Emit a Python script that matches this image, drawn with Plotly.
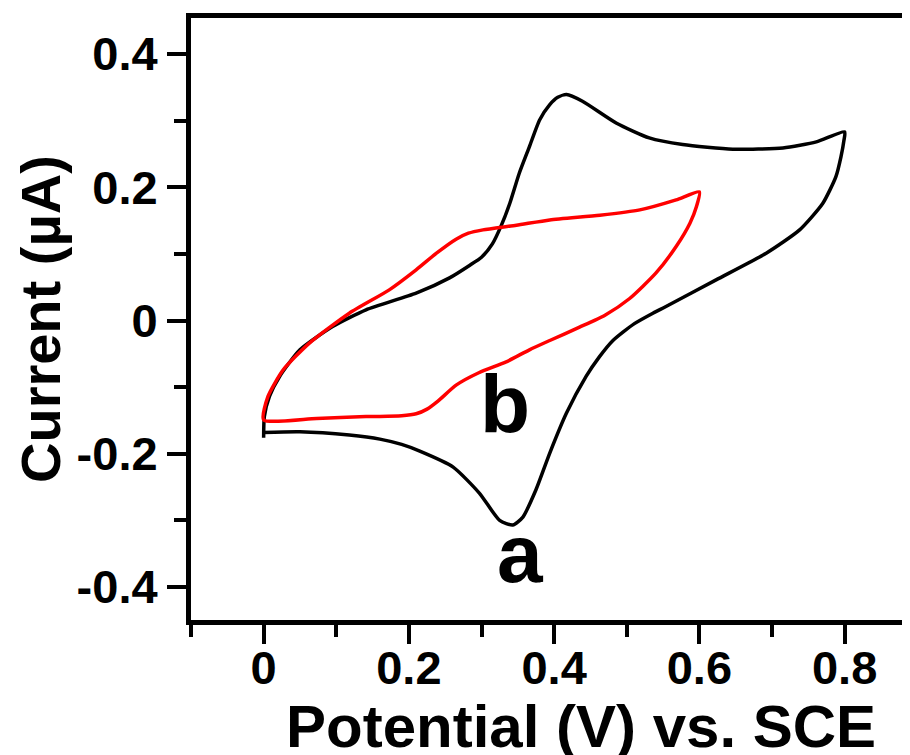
import plotly.graph_objects as go

# Curve a (black)
a_potential = [0.0, 0.001, 0.008, 0.022, 0.05, 0.095, 0.141, 0.21, 0.256, 0.284, 0.300, 0.315, 0.327,
               0.339, 0.352, 0.366, 0.38, 0.394, 0.405, 0.417, 0.439, 0.486, 0.531, 0.577, 0.646,
               0.715, 0.761, 0.8,
               0.799, 0.795, 0.788, 0.770, 0.738, 0.692, 0.623, 0.554, 0.536, 0.510, 0.481, 0.462, 0.444, 0.417,
               0.394, 0.375, 0.357, 0.343, 0.325, 0.297, 0.261, 0.215, 0.19, 0.16, 0.118, 0.05, 0.0]
a_current = [-0.176, -0.144, -0.114, -0.084, -0.044, -0.009, 0.016, 0.041, 0.064, 0.083, 0.095, 0.115, 0.142,
             0.176, 0.221, 0.261, 0.301, 0.324, 0.335, 0.339, 0.329, 0.296, 0.274, 0.264, 0.257,
             0.259, 0.268, 0.283,
             0.27, 0.246, 0.216, 0.176, 0.136, 0.101, 0.061, 0.021, 0.011, -0.005, -0.030, -0.055, -0.084, -0.139,
             -0.199, -0.254, -0.295, -0.307, -0.300, -0.259, -0.220, -0.196, -0.186, -0.178, -0.172, -0.167, -0.168]

# Curve b (red)
b_potential = [0.0, 0.006, 0.027, 0.063, 0.118, 0.173, 0.21, 0.238, 0.265, 0.282, 0.302, 0.348, 0.394,
               0.463, 0.518, 0.568, 0.6,
               0.596, 0.587, 0.568, 0.540, 0.504, 0.470, 0.435, 0.394, 0.366, 0.334, 0.297, 0.265,
               0.240, 0.225, 0.21, 0.19, 0.16, 0.141, 0.073, 0.0]
b_current = [-0.149, -0.114, -0.074, -0.034, 0.011, 0.046, 0.076, 0.101, 0.122, 0.131, 0.136, 0.143, 0.151,
             0.158, 0.166, 0.181, 0.193,
             0.171, 0.146, 0.111, 0.071, 0.033, 0.008, -0.010, -0.030, -0.044, -0.062, -0.078, -0.097,
             -0.121, -0.133, -0.140, -0.143, -0.144, -0.144, -0.147, -0.149]

x_tickvals = [0, 0.2, 0.4, 0.6, 0.8]
x_ticktext = ["0", "0.2", "0.4", "0.6", "0.8"]
y_tickvals = [-0.4, -0.2, 0, 0.2, 0.4]
y_ticktext = ["-0.4", "-0.2", "0", "0.2", "0.4"]

labels = ["a", "b"]
label_x = [0.354, 0.332]
label_y = [-0.35, -0.125]

FONT = "Liberation Sans, Arial, Helvetica, sans-serif"

fig = go.Figure()
fig.add_trace(go.Scatter(x=a_potential, y=a_current, mode="lines",
                         line=dict(color="black", width=3.5, shape="spline", smoothing=0.6),
                         showlegend=False))
fig.add_trace(go.Scatter(x=b_potential, y=b_current, mode="lines",
                         line=dict(color="#ff0000", width=3.5, shape="spline", smoothing=0.6),
                         showlegend=False))

for t, lx, ly in zip(labels, label_x, label_y):
    fig.add_annotation(x=lx, y=ly, text=t, showarrow=False,
                       font=dict(family=FONT, size=82, color="black", weight="bold"),
                       xanchor="center", yanchor="middle")

# axis titles
fig.add_annotation(xref="paper", yref="paper", x=0.5424, y=0, yanchor="top", yshift=-71,
                   text="Potential (V) vs. SCE", showarrow=False,
                   font=dict(family=FONT, size=60, color="black", weight="bold"))
fig.add_annotation(xref="paper", yref="paper", x=-0.21, y=0.5, xanchor="center", yanchor="middle",
                   text="Current (µA)", textangle=-90, showarrow=False,
                   font=dict(family=FONT, size=56, color="black", weight="bold"))

# page body has an 8px margin: size/margins compensate so the plot lands where the reference has it
fig.update_layout(
    width=902, height=747,
    margin=dict(l=183, r=0, t=10, b=135),
    paper_bgcolor="white", plot_bgcolor="white",
    font=dict(family=FONT, color="black"),
)
fig.update_xaxes(range=[-0.1, 0.890], showgrid=False, zeroline=False,
                 showline=True, linecolor="black", linewidth=5, mirror=True,
                 ticks="outside", ticklen=19, tickwidth=4, tickcolor="black",
                 tickvals=x_tickvals, ticktext=x_ticktext, ticklabelstandoff=-16,
                 tickfont=dict(family=FONT, size=47, color="black", weight="bold"),
                 minor=dict(ticks="outside", ticklen=12, tickwidth=4, tickcolor="black", dtick=0.1, tick0=-0.1))
fig.update_yaxes(range=[-0.4495, 0.454], showgrid=False, zeroline=False,
                 showline=True, linecolor="black", linewidth=5, mirror=False,
                 ticks="outside", ticklen=19, tickwidth=4, tickcolor="black",
                 tickvals=y_tickvals, ticktext=y_ticktext,
                 tickfont=dict(family=FONT, size=47, color="black", weight="bold"),
                 minor=dict(ticks="outside", ticklen=12, tickwidth=4, tickcolor="black", dtick=0.1, tick0=-0.1))

fig.write_html("out.html")
